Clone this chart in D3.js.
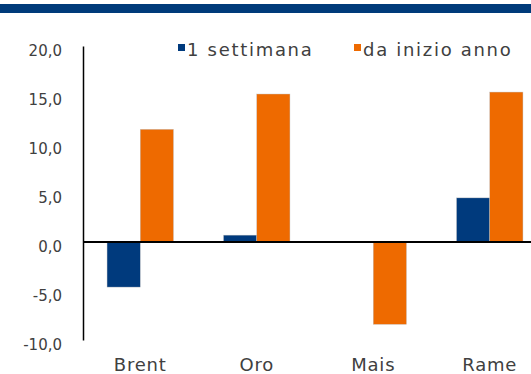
<!DOCTYPE html>
<html>
<head>
<meta charset="utf-8">
<script src="https://cdn.jsdelivr.net/npm/d3@7"></script>
<style>
  body { margin: 0; background: #fff; }
  svg { display: block; }
</style>
</head>
<body>
<div id="chart"></div>
<script>
// Data
var categories = ["Brent", "Oro", "Mais", "Rame"];
var series = ["1 settimana", "da inizio anno"];
var settimana = [-4.6, 0.7, 0.0, 4.5];
var inizioAnno = [11.5, 15.1, -8.4, 15.3];
var yTicks = [-10, -5, 0, 5, 10, 15, 20];
var colors = ["#003a7d", "#ee6a00"];

var width = 531, height = 374;

var svg = d3.select("#chart")
  .append("svg")
    .attr("width", width)
    .attr("height", height);

// title band (the title itself is cropped off the top)
svg.append("rect")
    .attr("x", 0)
    .attr("y", 4)
    .attr("width", width)
    .attr("height", 9)
    .attr("fill", "#003b7a");

// scales
var x0 = d3.scaleBand()
    .domain(categories)
    .range([82, 548])
    .paddingInner(0.43)
    .paddingOuter(0.215);

var x1 = d3.scaleBand()
    .domain(series)
    .range([0, x0.bandwidth()]);

var y = d3.scaleLinear()
    .domain([-10, 20])
    .range([340, 46]);

var rows = categories.map(function(c, i) {
  return { cat: c, values: [settimana[i], inizioAnno[i]] };
});

// bars
var groups = svg.selectAll("g.cat")
  .data(rows)
  .enter()
  .append("g")
    .attr("class", "cat")
    .attr("transform", function(d) { return "translate(" + x0(d.cat) + ",0)"; });

groups.selectAll("rect")
  .data(function(d) { return d.values.map(function(v, j) { return { key: series[j], v: v, j: j }; }); })
  .enter()
  .append("rect")
    .attr("x", function(d) { return x1(d.key); })
    .attr("width", x1.bandwidth())
    .attr("y", function(d) { return y(Math.max(0, d.v)); })
    .attr("height", function(d) { return Math.abs(y(d.v) - y(0)); })
    .attr("fill", function(d) { return colors[d.j]; })
    .attr("stroke", "#bfbfbf")
    .attr("stroke-width", 0.4);

// y axis
var yAxis = svg.append("g")
    .attr("transform", "translate(83,0)")
    .call(d3.axisLeft(y)
      .tickValues(yTicks)
      .tickSize(0)
      .tickPadding(21)
      .tickFormat(function(d) { return d3.format(".1f")(d).replace(".", ",").replace("\u2212", "-"); }));
yAxis.select(".domain")
    .attr("stroke", "#000")
    .attr("stroke-width", 1.5);
yAxis.selectAll("text")
    .attr("fill", "#404040")
    .attr("dy", "0.6em")
    .style("font-family", "DejaVu Sans")
    .style("font-size", "15px");

// zero line
svg.append("line")
    .attr("x1", 83)
    .attr("x2", width)
    .attr("y1", y(0))
    .attr("y2", y(0))
    .attr("stroke", "#000")
    .attr("stroke-width", 2);

// category labels
var xAxis = svg.append("g")
    .attr("transform", "translate(0,340)")
    .call(d3.axisBottom(x0).tickSize(0).tickPadding(18));
xAxis.select(".domain").remove();
xAxis.selectAll("text")
    .attr("fill", "#404040")
    .style("font-family", "DejaVu Sans")
    .style("font-size", "18px")
    .style("letter-spacing", "0.8px");

// legend
var legendX = [178, 354];
var legend = svg.selectAll("g.leg")
  .data(series)
  .enter()
  .append("g")
    .attr("class", "leg")
    .attr("transform", function(d, i) { return "translate(" + legendX[i] + ",0)"; });
legend.append("rect")
    .attr("x", 0)
    .attr("y", 44)
    .attr("width", 7)
    .attr("height", 7)
    .attr("fill", function(d, i) { return colors[i]; });
legend.append("text")
    .attr("x", 9)
    .attr("y", 56)
    .attr("fill", "#404040")
    .style("font-family", "DejaVu Sans")
    .style("font-size", "18px")
    .style("letter-spacing", "1.7px")
    .text(function(d) { return d; });
</script>
</body>
</html>
